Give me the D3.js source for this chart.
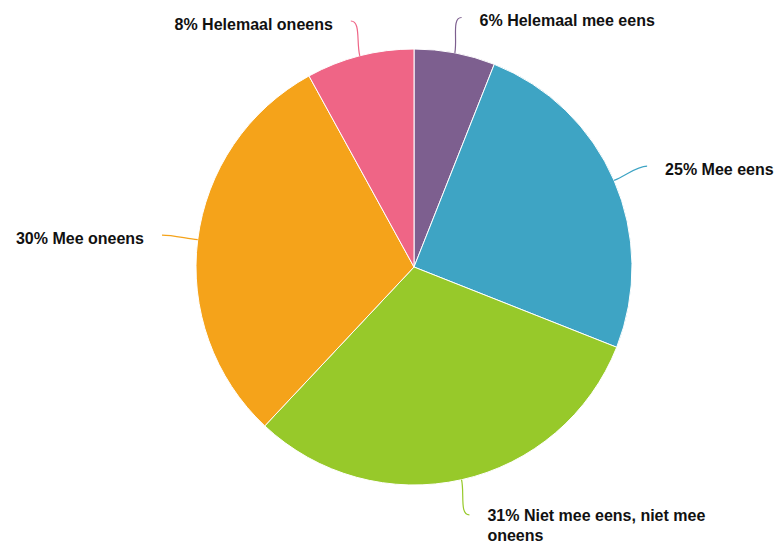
<!DOCTYPE html>
<html>
<head>
<meta charset="utf-8">
<script src="https://cdn.jsdelivr.net/npm/d3@7"></script>
<style>
	html, body { margin: 0; padding: 0; background: #fff; }
	svg { display: block; }
	.label { font-family: "Liberation Sans", Arial, sans-serif; font-size: 16px; font-weight: bold; fill: #111; }
</style>
</head>
<body>
<svg id="chart"></svg>
<script>
const categories = ["Helemaal mee eens", "Mee eens", "Niet mee eens, niet mee oneens", "Mee oneens", "Helemaal oneens"];
const values = [6, 25, 31, 30, 8];
const colors = ["#7d5f8f", "#3ea4c4", "#97c92a", "#f5a31a", "#ef6586"];

const width = 776;
const height = 545;
const cx = 414;
const cy = 267;
const radius = 218;
const labelDistance = 36;
const labelGap = 18;
const wrapWidth = 240;
const lineHeight = 20;

const svg = d3.select("#chart").attr("width", width).attr("height", height);
const g = svg.append("g").attr("transform", `translate(${cx},${cy})`);

const rows = categories.map((name, i) => ({ name, value: values[i], color: colors[i] }));
const pie = d3.pie().sort(null).value((d) => d.value);
const arc = d3.arc().innerRadius(0).outerRadius(radius);
const arcs = pie(rows);

g.selectAll("path.slice")
	.data(arcs)
	.join("path")
	.attr("class", "slice")
	.attr("d", arc)
	.attr("fill", (d) => d.data.color)
	.attr("stroke", "#fff")
	.attr("stroke-width", 1);

function polar(angle, r) {
	return [Math.sin(angle) * r, -Math.cos(angle) * r];
}

// wrap label text to a max width, returns lines
function wrapLines(text, maxWidth) {
	const probe = svg.append("text").attr("class", "label");
	const words = text.split(" ");
	const lines = [];
	let line = [];
	for (const word of words) {
		line.push(word);
		probe.text(line.join(" "));
		if (probe.node().getComputedTextLength() > maxWidth && line.length > 1) {
			line.pop();
			lines.push(line.join(" "));
			line = [word];
		}
	}
	lines.push(line.join(" "));
	probe.remove();
	return lines;
}

for (const d of arcs) {
	const mid = (d.startAngle + d.endAngle) / 2;
	const right = Math.sin(mid) >= 0;
	const dir = right ? 1 : -1;
	const [x0, y0] = polar(mid, radius);
	const [x1, y1] = polar(mid, radius + 14);
	const [x3, y3] = polar(mid, radius + labelDistance);
	const x2 = x3 - dir * 10;
	const y2 = y3;

	g.append("path")
		.attr("d", `M${x0},${y0}C${x1},${y1} ${x2},${y2} ${x3},${y3}`)
		.attr("fill", "none")
		.attr("stroke", d.data.color)
		.attr("stroke-width", 1.2);

	const tx = x3 + dir * labelGap;
	const lines = wrapLines(`${d.data.value}% ${d.data.name}`, wrapWidth);
	const text = g.append("text")
		.attr("class", "label")
		.attr("x", tx)
		.attr("y", y3 + (lines.length > 1 ? 1 : 3))
		.attr("text-anchor", right ? "start" : "end");
	lines.forEach((ln, i) => {
		text.append("tspan")
			.attr("x", tx)
			.attr("dy", i === 0 ? "0.35em" : `${lineHeight}px`)
			.text(ln);
	});
}
</script>
</body>
</html>
